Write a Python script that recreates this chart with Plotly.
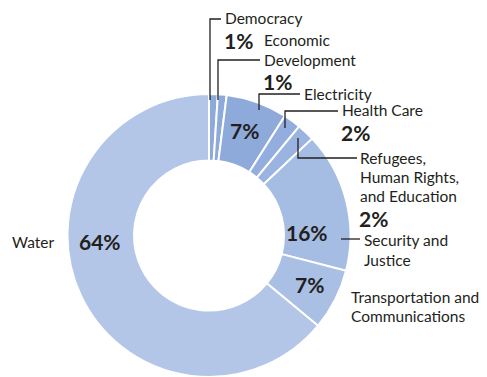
import plotly.graph_objects as go

categories = ["Democracy", "Economic Development", "Electricity", "Health Care",
              "Refugees, Human Rights, and Education", "Security and Justice",
              "Transportation and Communications", "Water"]
values = [1, 1, 7, 2, 2, 16, 7, 64]
pct_labels = ["1%", "1%", "7%", "2%", "2%", "16%", "7%", "64%"]
colors = ["#8eaadb", "#8eaadb", "#8eaadb", "#93aede", "#9bb3e0", "#a5bce3", "#a9bfe4", "#b3c6e7"]

W, H = 487, 377
FONT = "Lato"
TXT = "#231f20"
BOLD = 21
REG = 15.5

def px(x, y):
    return x / W, 1 - y / H

fig = go.Figure(go.Pie(
    labels=categories, values=values, sort=False, direction="clockwise", rotation=0,
    hole=0.53, textinfo="none", hoverinfo="label+percent",
    marker=dict(colors=colors, line=dict(color="white", width=2)),
    domain=dict(x=[66 / W, 352 / W], y=[0, 283 / H]),
))

annotations = []
def text(x, y, s, anchor="left", bold=False):
    ax, ay = px(x, y)
    annotations.append(dict(
        x=ax, y=ay, xref="paper", yref="paper", text=f"<b>{s}</b>" if bold else s,
        showarrow=False, xanchor=anchor, yanchor="middle", borderpad=0,
        font=dict(family=FONT, size=BOLD if bold else REG, color=TXT)))

shapes = []
def line(pts):
    path = ""
    for i, (x, y) in enumerate(pts):
        ax, ay = px(x, y)
        path += ("M" if i == 0 else "L") + f"{ax},{ay} "
    shapes.append(dict(type="path", xref="paper", yref="paper", path=path,
                       line=dict(color="#231f20", width=1.3)))

# Democracy
line([(221, 19), (210, 19), (210, 100)])
text(224, 18, "Democracy")
text(223, 41, pct_labels[0], bold=True)
# Economic Development
line([(260, 60), (218, 60), (218, 100)])
text(263, 40, "Economic")
text(263, 60, "Development")
text(262, 82, pct_labels[1], bold=True)
# Electricity
line([(300, 94), (259, 94), (259, 110)])
text(303, 94, "Electricity")
text(245, 130, pct_labels[2], anchor="center", bold=True)
# Health care
line([(338, 111), (285, 111), (285, 128)])
text(341, 110, "Health Care")
text(340, 132, pct_labels[3], bold=True)
# Refugees
line([(357, 158), (298, 158), (298, 138)])
text(359, 158, "Refugees,")
text(359, 177, "Human Rights,")
text(359, 196, "and Education")
text(358, 218, pct_labels[4], bold=True)
# Security
line([(341, 239), (360, 239)])
text(363, 240, "Security and")
text(363, 260, "Justice")
text(307, 232, pct_labels[5], anchor="center", bold=True)
# Transportation
text(350, 297, "Transportation and")
text(350, 316, "Communications")
text(309, 284, pct_labels[6], anchor="center", bold=True)
# Water
text(55, 242, "Water", anchor="right")
text(100, 242, pct_labels[7], anchor="center", bold=True)

fig.update_layout(
    width=W, height=H, margin=dict(l=0, r=0, t=0, b=0),
    paper_bgcolor="white", plot_bgcolor="white", showlegend=False,
    annotations=annotations, shapes=shapes,
    font=dict(family=FONT),
)
fig.write_html("out.html", config={"displayModeBar": False},
               post_script="document.body.style.margin='0';document.body.style.overflow='hidden';")
